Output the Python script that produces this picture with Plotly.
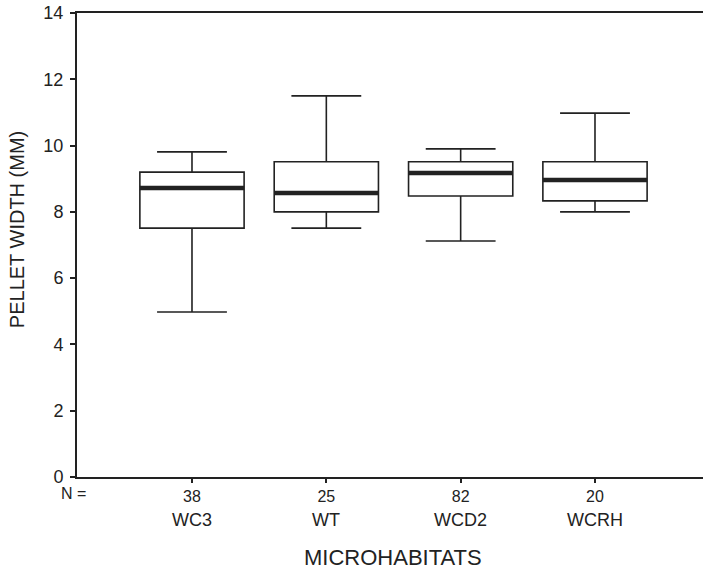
import plotly.graph_objects as go

categories = ["WC3", "WT", "WCD2", "WCRH"]
n_values = [38, 25, 82, 20]
lower_whisker = [4.98, 7.51, 7.12, 8.00]
q1 = [7.51, 8.00, 8.48, 8.33]
median = [8.72, 8.57, 9.17, 8.96]
q3 = [9.20, 9.51, 9.51, 9.51]
upper_whisker = [9.81, 11.50, 9.90, 10.98]
y_ticks = [0, 2, 4, 6, 8, 10, 12, 14]

INK = "#222222"
FONT = "Liberation Sans, Arial, sans-serif"
BOX_W = 0.776
pos = list(range(len(categories)))

fig = go.Figure()
fig.add_trace(go.Box(
    x=pos, q1=q1, median=median, q3=q3,
    lowerfence=lower_whisker, upperfence=upper_whisker,
    width=BOX_W, whiskerwidth=0.67,
    fillcolor="white", line=dict(color=INK, width=1.6),
    boxpoints=False, showlegend=False, hoverinfo="skip",
))
for i, m in zip(pos, median):
    fig.add_trace(go.Scatter(
        x=[i - BOX_W / 2, i + BOX_W / 2], y=[m, m], mode="lines",
        line=dict(color=INK, width=4.5), showlegend=False, hoverinfo="skip",
    ))

for i, c in zip(pos, categories):
    fig.add_annotation(x=i, y=0, xref="x", yref="paper", text=c, showarrow=False,
                       yanchor="middle", yshift=-43, font=dict(size=18, color=INK, family=FONT))
fig.add_annotation(x=0, y=0, xref="paper", yref="paper", text="N =", showarrow=False,
                   xanchor="right", yanchor="middle", xshift=11, yshift=-16,
                   font=dict(size=16, color=INK, family=FONT))
fig.add_annotation(x=0, y=0.532, xref="paper", yref="paper", text="PELLET WIDTH (MM)",
                   showarrow=False, textangle=-90, xanchor="center", yanchor="middle",
                   xshift=-60, font=dict(size=20, color=INK, family=FONT))
fig.add_annotation(x=0.505, y=0, xref="paper", yref="paper", text="MICROHABITATS",
                   showarrow=False, xanchor="center", yanchor="middle", yshift=-80,
                   font=dict(size=22, color=INK, family=FONT))

fig.update_layout(
    width=703, height=571,
    margin=dict(l=77, r=0, t=13, b=94),
    plot_bgcolor="white", paper_bgcolor="white",
    font=dict(family=FONT, color=INK),
    xaxis=dict(range=[-0.856, 3.804], tickvals=pos, ticktext=[str(n) for n in n_values],
               showline=True, mirror=True, linecolor=INK, linewidth=2,
               ticks="outside", ticklen=4, tickcolor=INK, tickwidth=1.5,
               showgrid=False, zeroline=False, automargin=False,
               tickfont=dict(size=16, color=INK)),
    yaxis=dict(range=[0, 14], tickvals=y_ticks, showline=True, mirror=False,
               linecolor=INK, linewidth=2, ticks="outside", ticklen=5,
               tickcolor=INK, tickwidth=1.5, showgrid=False, zeroline=False,
               automargin=False, ticklabelstandoff=3, tickfont=dict(size=18, color=INK)),
)

fig.write_html("out.html", config={"displayModeBar": False},
               post_script="document.body.style.margin='0';document.body.style.overflow='hidden';")
